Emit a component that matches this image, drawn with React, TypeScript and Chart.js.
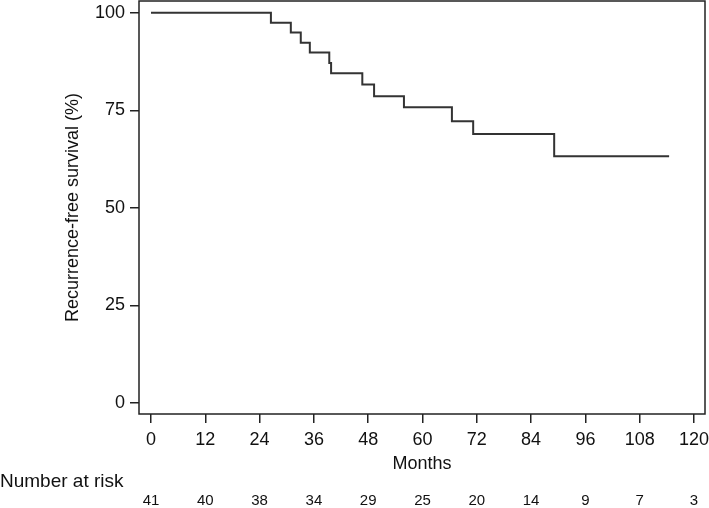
import React, { useEffect, useRef } from "react";
import { Chart, registerables } from "chart.js";

Chart.register(...registerables);

const eventMonths = [0, 26.5, 30.9, 33.1, 35.1, 39.4, 39.8, 46.7, 49.3, 55.9, 66.5, 71.2, 89.1, 114.5];
const survivalPct = [100, 97.4, 94.9, 92.3, 89.8, 87.1, 84.5, 81.6, 78.6, 75.8, 72.2, 68.9, 63.2, 63.2];
const xTickMonths = [0, 12, 24, 36, 48, 60, 72, 84, 96, 108, 120];
const yTickValues = [0, 25, 50, 75, 100];
const numberAtRisk = [41, 40, 38, 34, 29, 25, 20, 14, 9, 7, 3];

const FONT = "'Liberation Sans', Arial, Helvetica, sans-serif";
const INK = "#222";

export default function App() {
  const ref = useRef<HTMLCanvasElement | null>(null);

  useEffect(() => {
    document.body.style.margin = "0";
    const canvas = ref.current;
    if (!canvas) return;

    const boxPlugin = {
      id: "boxAndRisk",
      afterDraw(chart: any) {
        const { ctx, chartArea } = chart;
        const xs = chart.scales.x;
        ctx.save();
        ctx.strokeStyle = INK;
        ctx.lineWidth = 1.5;
        ctx.strokeRect(chartArea.left, chartArea.top, chartArea.right - chartArea.left, chartArea.bottom - chartArea.top);
        ctx.fillStyle = "#111";
        ctx.font = `19px ${FONT}`;
        ctx.textAlign = "left";
        ctx.textBaseline = "alphabetic";
        ctx.fillText("Number at risk", 0, 487);
        ctx.font = `15px ${FONT}`;
        ctx.textAlign = "center";
        ctx.textBaseline = "middle";
        numberAtRisk.forEach((n, i) => {
          ctx.fillText(String(n), xs.getPixelForValue(xTickMonths[i]), 501);
        });
        ctx.restore();
      },
    };

    const chart = new Chart(canvas, {
      type: "line",
      data: {
        datasets: [
          {
            data: eventMonths.map((m, i) => ({ x: m, y: survivalPct[i] })),
            stepped: "before",
            borderColor: "#333",
            borderWidth: 2,
            pointRadius: 0,
            fill: false,
          },
        ],
      },
      options: {
        animation: false,
        responsive: false,
        maintainAspectRatio: false,
        layout: { padding: { top: 1, right: 4, left: 0, bottom: 0 } },
        plugins: { legend: { display: false }, tooltip: { enabled: false } },
        scales: {
          x: {
            type: "linear",
            min: -2.65,
            max: 122.43,
            afterFit(scale: any) {
              scale.height = 94;
              scale.paddingLeft = 0;
              scale.paddingRight = 0;
              scale.paddingTop = 0;
              scale.paddingBottom = 0;
            },
            afterBuildTicks(scale: any) {
              scale.ticks = xTickMonths.map((v) => ({ value: v }));
            },
            grid: { drawOnChartArea: false, drawTicks: true, tickLength: 9, color: INK, lineWidth: 1.5 },
            border: { display: false },
            ticks: { color: "#111", font: { family: FONT, size: 18 }, padding: 6, maxRotation: 0, autoSkip: false },
            title: {
              display: true,
              text: "Months",
              color: "#111",
              font: { family: FONT, size: 18 },
              padding: { top: 0, bottom: 33 },
            },
          },
          y: {
            type: "linear",
            min: -2.82,
            max: 103.0,
            afterFit(scale: any) {
              scale.width = 139;
              scale.paddingLeft = 0;
              scale.paddingRight = 0;
              scale.paddingTop = 0;
              scale.paddingBottom = 0;
            },
            afterBuildTicks(scale: any) {
              scale.ticks = yTickValues.map((v) => ({ value: v }));
            },
            grid: { drawOnChartArea: false, drawTicks: true, tickLength: 9, color: INK, lineWidth: 1.5 },
            border: { display: false },
            ticks: { color: "#111", font: { family: FONT, size: 18 }, padding: 5, autoSkip: false },
            title: {
              display: true,
              text: "Recurrence-free survival (%)",
              color: "#111",
              font: { family: FONT, size: 18 },
              padding: { top: 62, bottom: 0 },
            },
          },
        },
      },
      plugins: [boxPlugin],
    });

    return () => chart.destroy();
  }, []);

  return (
    <div style={{ position: "absolute", left: 0, top: 0, width: 709, height: 508 }}>
      <canvas ref={ref} width={709} height={508} style={{ width: 709, height: 508, display: "block" }} />
    </div>
  );
}
